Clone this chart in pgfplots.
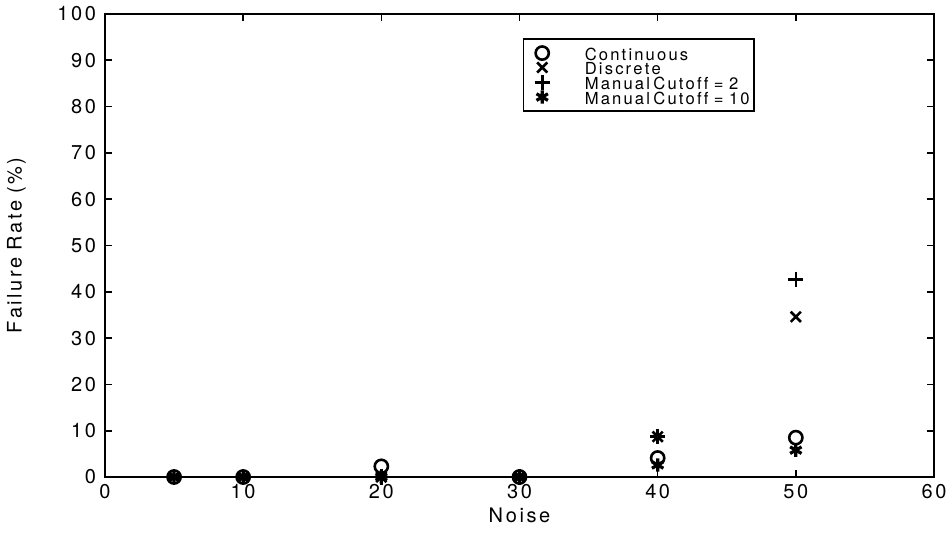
\documentclass[border=0pt]{standalone}
\usepackage{fontspec}
\setmainfont{TeX Gyre Heros}
\usepackage{pgfplots}
\pgfplotsset{compat=1.18}

% tracked lettering: a small kern after every glyph of a word
\ExplSyntaxOn
\NewDocumentCommand{\ls}{m}{ \tl_map_inline:nn {#1} { ##1 \kern 0.13em } \unkern }
\ExplSyntaxOff
\newcommand{\gap}{\hspace{0.33em}}

\begin{document}
\begin{tikzpicture}[font=\fontsize{10}{11}\selectfont]
\path[use as bounding box] (-52.5pt,-29.5pt) rectangle (423pt,238.5pt);
\begin{axis}[
  at={(0pt,0pt)}, anchor=south west,
  scale only axis, width=414.5pt, height=231.5pt,
  xmin=0, xmax=60, ymin=0, ymax=100,
  xtick={0,10,20,30,40,50,60},
  xticklabels={\ls{0},\ls{10},\ls{20},\ls{30},\ls{40},\ls{50},\ls{60}},
  ytick={0,10,20,30,40,50,60,70,80,90,100},
  yticklabels={\ls{0},\ls{10},\ls{20},\ls{30},\ls{40},\ls{50},\ls{60},\ls{70},\ls{80},\ls{90},\ls{100}},
  minor tick num=0,
  tick align=inside, major tick length=3.5pt,
  tick style={line width=0.8pt, black},
  axis line style={line width=1pt},
  xticklabel style={anchor=center, yshift=-7.5pt},
  yticklabel style={anchor=east, xshift=-1pt},
  xlabel={\ls{Noise}},
  ylabel={\ls{Failure}\gap\ls{Rate}\gap\ls{(\%)}},
  xlabel style={at={(axis description cs:0.5,-0.065)}, anchor=north, inner sep=0pt},
  ylabel style={at={(axis description cs:-0.095,0.5)}, anchor=south, inner sep=0pt},
  legend style={at={(rel axis cs:0.504,0.948)}, anchor=north west,
    draw=black, line width=0.8pt, legend cell align=left,
    row sep=0pt, inner xsep=2pt, inner ysep=3.5pt,
    nodes={inner xsep=0pt, inner ysep=0pt, text height=7.2pt, text depth=0pt},
    font=\fontsize{8.3}{10}\selectfont},
  legend image code/.code={%
    \path (0pt,0pt) (27pt,0pt);
    \draw[#1] plot coordinates {(6.5pt,0pt)};},
  every axis plot/.append style={only marks, black, line width=1.3pt, mark size=3.3pt},
]
\addplot[mark=o] coordinates {(5,0) (10,0) (20,2.3) (30,0) (40,4.1) (50,8.5)};
\addlegendentry{\ls{Continuous}}
\addplot[mark=x, mark size=3.6pt] coordinates {(5,0) (10,0) (20,0) (30,0) (40,8.7) (50,34.6)};
\addlegendentry{\ls{Discrete}}
\addplot[mark=+, mark size=3.8pt] coordinates {(5,0) (10,0) (20,0) (30,0) (40,8.7) (50,42.7)};
\addlegendentry{\ls{Manual}\hspace{0.2em}\ls{Cutoff}\gap\ls{=}\gap\ls{2}}
\addplot[mark=asterisk, line width=1.6pt] coordinates {(5,0) (10,0) (20,0) (30,0) (40,2.6) (50,5.8)};
\addlegendentry{\ls{Manual}\hspace{0.2em}\ls{Cutoff}\gap\ls{=}\gap\ls{10}}
\end{axis}
\end{tikzpicture}
\end{document}
